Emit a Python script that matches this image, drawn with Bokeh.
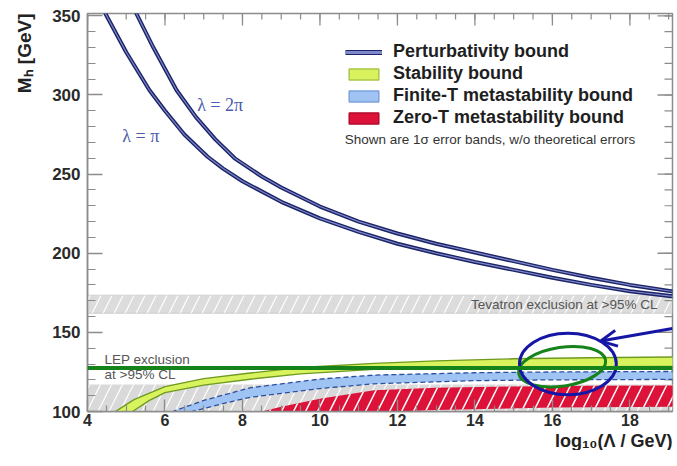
import numpy as np
from bokeh.plotting import figure
from bokeh.models import (Range1d, FixedTicker, BoxAnnotation, Label, Span, Title,
                          Legend, LegendItem, Arrow, OpenHead)
from bokeh.embed import file_html
from bokeh.resources import INLINE

# ---------------- data ----------------
x_ticks = [4, 6, 8, 10, 12, 14, 16, 18]
y_ticks = [100, 150, 200, 250, 300, 350]
x_minor = [4 + 0.5 * i for i in range(31)]
y_minor = list(range(100, 351, 10))

# perturbativity bounds
pert_pi_x = [4.45, 5.0, 5.6, 6.0, 6.5, 7.1, 7.5, 8.0, 9.0, 10.0, 11.0, 12.0, 13.0,
             14.0, 15.0, 16.0, 17.0, 18.0, 19.2]
pert_pi_y = [352, 327, 303, 290, 275, 261, 253.5, 245.5, 232.5, 222, 213.5, 206, 200,
             194.5, 189.5, 184.5, 180, 176, 172.5]
pert_2pi_x = [5.25, 5.7, 6.3, 6.8, 7.3, 7.8, 8.5, 9.0, 10.0, 11.0, 12.0, 13.0,
              14.0, 15.0, 16.0, 17.0, 18.0, 19.2]
pert_2pi_y = [352, 330, 303, 286, 272, 260, 248.5, 241.5, 229.5, 220, 212.5, 206,
              200.5, 195, 189.5, 184.5, 180, 175.5]

# stability band edges
stab_up_x = [4.5, 4.72, 5.2, 6.0, 7.0, 8.2, 9.5, 11.4, 13.0, 15.0, 17.0, 19.2]
stab_up_y = [97, 100, 107.5, 115.7, 120.8, 124.3, 127.8, 130.4, 132.0, 133.3, 134.0, 134.5]
stab_lo_x = [5.0, 5.16, 5.6, 6.0, 7.0, 8.2, 9.5, 11.4, 13.0, 15.0, 17.0, 19.2]
stab_lo_y = [97, 100, 107.0, 111.9, 116.7, 120.4, 123.8, 126.6, 127.4, 128.0, 128.3, 128.5]

# finite-T metastability band edges
fint_up_x = [6.0, 6.2, 7.0, 8.2, 10.0, 11.4, 14.0, 16.0, 19.2]
fint_up_y = [97, 100, 107.0, 115.0, 120.5, 123.0, 124.5, 125.0, 125.3]
fint_lo_x = [6.5, 6.7, 7.5, 8.2, 10.0, 11.4, 14.0, 16.0, 19.2]
fint_lo_y = [97, 100, 105.0, 109.0, 114.5, 117.5, 119.5, 120.0, 120.3]

# zero-T metastability band edges
zero_up_x = [8.2, 8.5, 9.0, 10.0, 11.4, 13.0, 15.0, 17.0, 19.2]
zero_up_y = [97, 100, 103.0, 108.0, 113.5, 115.0, 115.8, 116.2, 116.4]
zero_lo_x = [10.0, 11.0, 13.0, 16.0, 19.2]
zero_lo_y = [97, 99.0, 101.0, 102.5, 103.0]

tevatron_band = (162, 173.5)
lep_top = 117
higgs_line = 127.5

legend_labels = ["Perturbativity bound", "Stability bound",
                 "Finite-T metastability bound", "Zero-T metastability bound"]

# ---------------- figure ----------------
FONT = "Liberation Sans"
X0, X1, Y0, Y1 = 4, 19.1, 100, 351.5
p = figure(width=677, height=450, x_range=Range1d(X0, X1), y_range=Range1d(Y0, Y1),
           output_backend="svg", toolbar_location=None,
           min_border_left=85, min_border_right=5, min_border_top=13, min_border_bottom=10)
p.grid.visible = False
p.outline_line_color = "#8c8c8c"
p.outline_line_width = 1.5
p.background_fill_color = "white"
p.border_fill_color = "white"

p.xaxis.ticker = FixedTicker(ticks=x_ticks, minor_ticks=x_minor)
p.yaxis.ticker = FixedTicker(ticks=y_ticks, minor_ticks=y_minor)


def style_axis(ax, tick_in, minor_in, size, standoff):
    ax.major_tick_in = tick_in
    ax.major_tick_out = 0
    ax.minor_tick_in = minor_in
    ax.minor_tick_out = 0
    ax.axis_line_color = "#8c8c8c"
    ax.axis_line_width = 1.5
    ax.major_tick_line_color = "#8c8c8c"
    ax.major_tick_line_width = 1.3
    ax.minor_tick_line_color = "#8c8c8c"
    ax.minor_tick_line_width = 1.2
    ax.major_label_text_font = FONT
    ax.major_label_text_font_style = "bold"
    ax.major_label_text_font_size = size
    ax.major_label_text_color = "#2a2a2a"
    ax.major_label_standoff = standoff


style_axis(p.xaxis[0], 12, 6, "16px", 2)
style_axis(p.yaxis[0], 15, 8, "17px", 7)

# ticks on the top and right frame edges
TICK = "#8c8c8c"
p.ray(x=x_ticks, y=[Y1] * len(x_ticks), length=12, length_units="screen",
      angle=-np.pi / 2, line_color=TICK, line_width=1.3)
p.ray(x=x_minor, y=[Y1] * len(x_minor), length=6, length_units="screen",
      angle=-np.pi / 2, line_color=TICK, line_width=1.2)
p.ray(x=[X1] * len(y_ticks), y=y_ticks, length=15, length_units="screen",
      angle=np.pi, line_color=TICK, line_width=1.3)
p.ray(x=[X1] * len(y_minor), y=y_minor, length=8, length_units="screen",
      angle=np.pi, line_color=TICK, line_width=1.2)

# axis titles
p.add_layout(Title(text="log₁₀(Λ / GeV)", align="right", text_font=FONT,
                   text_font_style="bold", text_font_size="18px", text_color="#222222",
                   standoff=0), "below")
p.add_layout(Title(text="Mₕ [GeV]", align="right", vertical_align="top", text_font=FONT,
                   text_font_style="bold", text_font_size="19px", text_color="#222222",
                   standoff=26), "left")

# exclusion bands
p.add_layout(BoxAnnotation(top=lep_top, fill_color="#d9d9d9", fill_alpha=1,
                           hatch_pattern="/", hatch_color="white", hatch_scale=22,
                           hatch_weight=1.2, line_alpha=0, level="underlay"))
p.add_layout(BoxAnnotation(bottom=tevatron_band[0], top=tevatron_band[1],
                           fill_color="#dcdcdc", fill_alpha=1,
                           hatch_pattern="/", hatch_color="white", hatch_scale=22,
                           hatch_weight=1.2, line_color="#a8a8a8", line_width=1.2,
                           level="underlay"))


def band(ux, uy, lx, ly):
    return (np.concatenate([ux, lx[::-1]]), np.concatenate([uy, ly[::-1]]))


zx, zy = band(zero_up_x, zero_up_y, zero_lo_x, zero_lo_y)
p.patch(zx, zy, fill_color="#dc1239", line_alpha=0,
        hatch_pattern="/", hatch_color="white", hatch_scale=24, hatch_weight=1.5)

fx, fy = band(fint_up_x, fint_up_y, fint_lo_x, fint_lo_y)
p.patch(fx, fy, fill_color="#9fc3f2", line_color="#2c4f9e", line_width=1.3, line_dash="5 3")

sx, sy = band(stab_up_x, stab_up_y, stab_lo_x, stab_lo_y)
p.patch(sx, sy, fill_color="#d8f35e", line_color="#6f9a20", line_width=1.4)

# perturbativity curves
NAVY = "#1b2466"
LAV = "#8088cc"
for cx, cy in [(pert_pi_x, pert_pi_y), (pert_2pi_x, pert_2pi_y)]:
    p.line(cx, cy, line_color=NAVY, line_width=4)
    p.line(cx, cy, line_color=LAV, line_width=1.2)

# legend swatches (NaN data: nothing drawn in the plot)
nan = [np.nan]
lg1 = p.line(x=nan, y=nan, line_color=NAVY, line_width=5)
lg2 = p.line(x=nan, y=nan, line_color=LAV, line_width=3)
lg3 = p.patch(x=nan, y=nan, fill_color="#d8f35e", line_color="#a9c84a", line_width=1.5)
lg4 = p.patch(x=nan, y=nan, fill_color="#9fc3f2", line_color="#7fa2dc", line_width=1.5)
lg5 = p.patch(x=nan, y=nan, fill_color="#dc1239", line_color="#b30d2e", line_width=1.5)
legend = Legend(items=[LegendItem(label=legend_labels[0], renderers=[lg1, lg2]),
                       LegendItem(label=legend_labels[1], renderers=[lg3]),
                       LegendItem(label=legend_labels[2], renderers=[lg4]),
                       LegendItem(label=legend_labels[3], renderers=[lg5])],
                location=(258, 283), orientation="vertical", padding=0, margin=0,
                spacing=1, glyph_width=37, glyph_height=14, label_height=20,
                label_standoff=11, label_text_font=FONT, label_text_font_style="bold",
                label_text_font_size="18px", label_text_color="#1e1e1e",
                border_line_alpha=0, background_fill_alpha=0)
p.add_layout(legend)

p.add_layout(Label(x=10.64, y=271.9, text="Shown are 1σ error bands, w/o theoretical errors",
                   text_font=FONT, text_font_size="13.5px", text_color="#333333",
                   text_baseline="middle"))

# text annotations
p.add_layout(Label(x=4.9, y=274.4, text="λ = π", text_font="Liberation Serif",
                   text_font_size="18px", text_color="#4a5aae", text_baseline="middle"))
p.add_layout(Label(x=6.83, y=293.9, text="λ = 2π", text_font="Liberation Serif",
                   text_font_size="18px", text_color="#4a5aae", text_baseline="middle"))
p.add_layout(Label(x=X1, y=sum(tevatron_band) / 2, x_offset=-15,
                   text="Tevatron exclusion at >95% CL",
                   text_font=FONT, text_font_size="13.5px", text_color="#555555",
                   text_align="right", text_baseline="middle"))
p.add_layout(Label(x=4.44, y=132.8, text="LEP exclusion", text_font=FONT,
                   text_font_size="13.5px", text_color="#555555", text_baseline="middle"))
p.add_layout(Label(x=4.44, y=123.4, text="at >95% CL", text_font=FONT,
                   text_font_size="13.5px", text_color="#555555", text_baseline="middle"))

# hand-drawn annotations
GREEN = "#16821a"
INK = "#1616a6"
p.add_layout(Span(location=higgs_line, dimension="width", line_color=GREEN, line_width=4))
p.ellipse(x=16.25, y=128.3, width=2.27, height=24.5, angle=0.15, fill_alpha=0,
          line_color=GREEN, line_width=3)
p.ellipse(x=16.4, y=130, width=2.5, height=39, angle=0.0, fill_alpha=0,
          line_color=INK, line_width=3)
p.add_layout(Arrow(x_start=X1, y_start=152.5, x_end=17.25, y_end=144.5,
                   line_color=INK, line_width=3,
                   end=OpenHead(size=16, line_color=INK, line_width=3)))

open("out.html", "w").write(file_html(p, INLINE))
